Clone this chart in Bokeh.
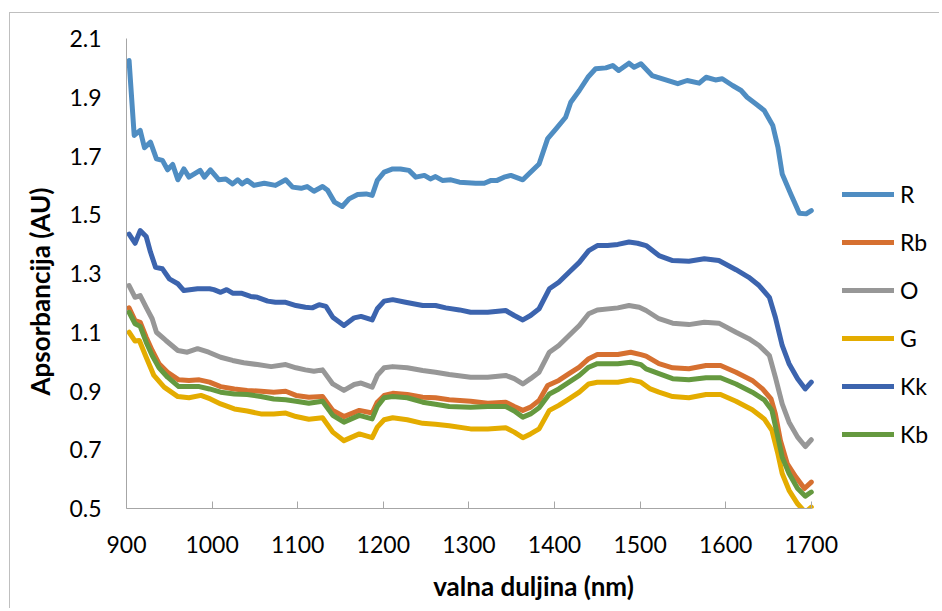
from bokeh.plotting import figure
from bokeh.models import Legend, LegendItem, FixedTicker, Title, Range1d
from bokeh.embed import file_html
from bokeh.resources import INLINE

# ---- data ----
R_nm = [903, 909, 916, 921, 928, 935, 942, 948, 954, 960, 967, 973, 986, 991, 998, 1008, 1016, 1024,
        1030, 1035, 1041, 1049, 1061, 1074, 1086, 1094, 1104, 1111, 1119, 1129, 1135, 1143, 1152, 1160,
        1170, 1180, 1187, 1193, 1201, 1211, 1220, 1230, 1238, 1248, 1255, 1261, 1269, 1279, 1289, 1308,
        1318, 1326, 1333, 1341, 1349, 1363, 1372, 1382, 1392, 1402, 1413, 1419, 1429, 1439, 1448, 1460,
        1468, 1475, 1487, 1493, 1501, 1514, 1530, 1544, 1555, 1569, 1577, 1588, 1596, 1608, 1618, 1625,
        1635, 1645, 1655, 1661, 1666, 1676, 1686, 1694, 1700]
R_abs = [2.025, 1.770, 1.787, 1.728, 1.747, 1.690, 1.685, 1.653, 1.671, 1.619, 1.656, 1.628, 1.651, 1.628,
         1.653, 1.619, 1.622, 1.605, 1.619, 1.605, 1.617, 1.600, 1.607, 1.600, 1.619, 1.594, 1.590, 1.596,
         1.580, 1.596, 1.583, 1.543, 1.528, 1.554, 1.569, 1.571, 1.566, 1.617, 1.645, 1.656, 1.656, 1.651,
         1.628, 1.634, 1.622, 1.630, 1.617, 1.619, 1.611, 1.607, 1.607, 1.617, 1.617, 1.628, 1.634, 1.619,
         1.645, 1.673, 1.759, 1.793, 1.832, 1.883, 1.923, 1.968, 1.997, 2.000, 2.008, 1.991, 2.016, 2.002,
         2.014, 1.974, 1.959, 1.946, 1.957, 1.948, 1.968, 1.959, 1.963, 1.940, 1.923, 1.900, 1.878, 1.855,
         1.804, 1.730, 1.639, 1.571, 1.505, 1.503, 1.514]

Kk_nm = [903, 910, 916, 923, 928, 934, 942, 950, 960, 967, 983, 997, 1002, 1010, 1017, 1024, 1034, 1045,
         1053, 1065, 1074, 1086, 1098, 1109, 1117, 1125, 1133, 1141, 1154, 1166, 1174, 1187, 1193, 1201,
         1211, 1226, 1246, 1261, 1273, 1289, 1302, 1322, 1343, 1353, 1363, 1372, 1382, 1394, 1405, 1417,
         1429, 1440, 1450, 1462, 1474, 1487, 1497, 1507, 1522, 1538, 1557, 1575, 1592, 1612, 1627, 1639,
         1651, 1658, 1666, 1674, 1684, 1693, 1700]
Kk_abs = [1.434, 1.403, 1.446, 1.426, 1.373, 1.321, 1.316, 1.282, 1.265, 1.242, 1.248, 1.248, 1.245, 1.236,
          1.245, 1.233, 1.233, 1.222, 1.219, 1.206, 1.202, 1.202, 1.191, 1.185, 1.183, 1.194, 1.188, 1.151,
          1.123, 1.149, 1.154, 1.142, 1.180, 1.206, 1.211, 1.202, 1.191, 1.191, 1.183, 1.176, 1.168, 1.168,
          1.174, 1.157, 1.142, 1.157, 1.180, 1.248, 1.270, 1.304, 1.338, 1.378, 1.395, 1.395, 1.399, 1.407,
          1.403, 1.395, 1.361, 1.344, 1.342, 1.350, 1.344, 1.313, 1.287, 1.259, 1.219, 1.151, 1.055, 0.993,
          0.942, 0.907, 0.930]

O_nm = [903, 910, 916, 923, 930, 935, 946, 960, 971, 983, 996, 1010, 1024, 1037, 1053, 1069, 1086, 1098,
        1109, 1119, 1129, 1141, 1154, 1166, 1174, 1187, 1193, 1201, 1211, 1228, 1246, 1261, 1277, 1302,
        1322, 1343, 1353, 1363, 1372, 1382, 1394, 1405, 1417, 1429, 1440, 1450, 1474, 1487, 1499, 1507,
        1522, 1538, 1557, 1575, 1592, 1612, 1627, 1639, 1651, 1658, 1666, 1674, 1684, 1693, 1700]
O_abs = [1.259, 1.219, 1.225, 1.185, 1.146, 1.100, 1.072, 1.038, 1.032, 1.044, 1.032, 1.015, 1.004, 0.996,
         0.990, 0.983, 0.990, 0.979, 0.972, 0.967, 0.972, 0.924, 0.902, 0.922, 0.927, 0.913, 0.953, 0.979,
         0.983, 0.979, 0.970, 0.964, 0.956, 0.947, 0.947, 0.953, 0.942, 0.924, 0.942, 0.964, 1.032, 1.055,
         1.089, 1.123, 1.163, 1.176, 1.183, 1.191, 1.185, 1.174, 1.146, 1.131, 1.126, 1.134, 1.131, 1.100,
         1.078, 1.055, 1.021, 0.947, 0.856, 0.794, 0.743, 0.711, 0.734]

Rb_nm = [903, 910, 916, 923, 930, 938, 948, 961, 973, 985, 997, 1010, 1026, 1041, 1057, 1072, 1086, 1098,
         1113, 1129, 1141, 1154, 1172, 1187, 1193, 1201, 1211, 1228, 1246, 1261, 1277, 1302, 1322, 1343,
         1353, 1363, 1372, 1382, 1392, 1405, 1417, 1429, 1440, 1450, 1474, 1489, 1501, 1507, 1522, 1538,
         1557, 1577, 1594, 1612, 1631, 1643, 1653, 1658, 1664, 1672, 1682, 1692, 1700]
Rb_abs = [1.183, 1.140, 1.134, 1.083, 1.038, 0.993, 0.964, 0.938, 0.936, 0.938, 0.930, 0.915, 0.907, 0.902,
          0.899, 0.896, 0.899, 0.885, 0.879, 0.881, 0.834, 0.813, 0.834, 0.825, 0.862, 0.885, 0.892, 0.888,
          0.879, 0.877, 0.870, 0.865, 0.858, 0.862, 0.847, 0.834, 0.845, 0.868, 0.919, 0.936, 0.959, 0.981,
          1.010, 1.024, 1.024, 1.032, 1.024, 1.019, 0.993, 0.979, 0.976, 0.987, 0.987, 0.964, 0.936, 0.907,
          0.873, 0.822, 0.731, 0.652, 0.607, 0.568, 0.590]

Kb_nm = [903, 910, 916, 923, 930, 938, 948, 961, 973, 985, 997, 1010, 1026, 1041, 1057, 1072, 1086, 1098,
         1113, 1129, 1141, 1154, 1172, 1187, 1193, 1201, 1211, 1228, 1246, 1261, 1277, 1302, 1322, 1343,
         1353, 1363, 1372, 1382, 1394, 1405, 1417, 1429, 1440, 1450, 1474, 1489, 1501, 1507, 1522, 1538,
         1557, 1577, 1594, 1612, 1631, 1645, 1654, 1661, 1666, 1674, 1684, 1693, 1700]
Kb_abs = [1.168, 1.129, 1.120, 1.066, 1.021, 0.979, 0.947, 0.915, 0.915, 0.915, 0.907, 0.896, 0.890, 0.888,
          0.881, 0.873, 0.870, 0.865, 0.858, 0.865, 0.817, 0.794, 0.817, 0.805, 0.847, 0.877, 0.881, 0.877,
          0.862, 0.855, 0.847, 0.845, 0.847, 0.847, 0.832, 0.811, 0.822, 0.843, 0.890, 0.907, 0.930, 0.953,
          0.981, 0.993, 0.993, 0.998, 0.990, 0.975, 0.959, 0.942, 0.938, 0.945, 0.945, 0.924, 0.896, 0.870,
          0.834, 0.743, 0.675, 0.619, 0.568, 0.542, 0.556]

G_nm = [903, 910, 915, 923, 932, 944, 960, 973, 987, 998, 1010, 1026, 1041, 1057, 1072, 1086, 1098, 1113,
        1129, 1141, 1154, 1172, 1187, 1193, 1201, 1211, 1228, 1246, 1261, 1277, 1302, 1322, 1343, 1353,
        1363, 1372, 1382, 1394, 1405, 1417, 1429, 1440, 1450, 1474, 1489, 1501, 1512, 1522, 1538, 1557,
        1577, 1594, 1612, 1631, 1645, 1654, 1661, 1666, 1674, 1684, 1693, 1700]
G_abs = [1.100, 1.070, 1.072, 1.015, 0.953, 0.913, 0.881, 0.877, 0.885, 0.873, 0.856, 0.839, 0.832, 0.822,
         0.822, 0.825, 0.813, 0.804, 0.809, 0.760, 0.731, 0.754, 0.741, 0.777, 0.802, 0.809, 0.802, 0.790,
         0.787, 0.782, 0.771, 0.771, 0.775, 0.760, 0.741, 0.754, 0.771, 0.834, 0.851, 0.873, 0.896, 0.924,
         0.930, 0.930, 0.938, 0.930, 0.907, 0.896, 0.881, 0.877, 0.888, 0.888, 0.865, 0.836, 0.805, 0.766,
         0.686, 0.619, 0.562, 0.516, 0.487, 0.505]

series_names = ["R", "Rb", "O", "G", "Kk", "Kb"]
series_colors = ["#4F8DC2", "#D67030", "#979797", "#E4AC00", "#3C64AE", "#65993F"]
x_ticks = [900, 1000, 1100, 1200, 1300, 1400, 1500, 1600, 1700]
y_ticks = [0.5, 0.7, 0.9, 1.1, 1.3, 1.5, 1.7, 1.9, 2.1]

x_title = "valna duljina (nm)"
y_title = "Apsorbancija (AU)"

data = {
    "R": (R_nm, R_abs), "Rb": (Rb_nm, Rb_abs), "O": (O_nm, O_abs),
    "G": (G_nm, G_abs), "Kk": (Kk_nm, Kk_abs), "Kb": (Kb_nm, Kb_abs),
}

FONT = "Lato"
AXIS_GRAY = "#A6A6A6"
TICK_SIZE = "23px"
TITLE_SIZE = "26px"

# geometry: frame from page x=126 to the right edge (legend lives inside it);
# the x axis itself is bounded to 900..1700 (900 -> x=126, 1700 -> x=810.5)
W, H = 930, 596
LEFT, TOP, PLOT_H = 116, 25, 470
FRAME_W = W - LEFT
PX_PER_NM = 684.8 / 800.0
x_end = 900 + FRAME_W / PX_PER_NM

p = figure(width=W, height=H, output_backend="svg", toolbar_location=None,
           x_range=Range1d(900, x_end), y_range=Range1d(0.5, 2.1),
           min_border_left=LEFT, min_border_right=0, min_border_top=TOP,
           min_border_bottom=H - TOP - PLOT_H)
p.styles = {"margin-left": "9px", "margin-top": "12px",
            "border-left": "1px solid #BFBFBF", "border-top": "1px solid #BFBFBF"}
p.outline_line_color = None
p.xgrid.grid_line_color = None
p.ygrid.grid_line_color = None
p.background_fill_color = "white"
p.border_fill_color = "white"

p.xaxis.ticker = FixedTicker(ticks=x_ticks)
p.xaxis.bounds = (900, 1700)
p.yaxis.ticker = FixedTicker(ticks=y_ticks)
p.yaxis.major_label_overrides = {t: f"{t:.1f}" for t in y_ticks}
for ax in (p.xaxis[0], p.yaxis[0]):
    ax.axis_line_color = AXIS_GRAY
    ax.axis_line_width = 1
    ax.major_tick_line_color = AXIS_GRAY
    ax.minor_tick_line_color = None
    ax.major_label_text_font = FONT
    ax.major_label_text_font_size = TICK_SIZE
    ax.major_label_text_color = "#000000"
    ax.axis_label_text_font = FONT
    ax.axis_label_text_font_size = TITLE_SIZE
    ax.axis_label_text_font_style = "bold"
    ax.axis_label_text_color = "#000000"

p.xaxis.major_tick_in = 7
p.xaxis.major_tick_out = 0
p.xaxis.major_label_standoff = 27
p.xaxis.axis_label = x_title
p.xaxis.axis_label_standoff = 14

p.yaxis.major_tick_in = 0
p.yaxis.major_tick_out = 0
p.yaxis.major_label_standoff = 25

# y-axis title (sits lower than the plot middle in the reference)
ytitle = Title(text=y_title, align="left", offset=113, standoff=22,
               text_font=FONT, text_font_size=TITLE_SIZE, text_font_style="bold",
               text_color="#000000")
p.add_layout(ytitle, "left")

items = []
for name, color in zip(series_names, series_colors):
    xs, ys = data[name]
    r = p.line(xs, ys, line_color=color, line_width=5, line_join="round", line_cap="round")
    items.append(LegendItem(label=name, renderers=[r]))

legend = Legend(items=items, location=(716, 60), orientation="vertical",
                glyph_width=52, glyph_height=28, label_height=28, spacing=20,
                label_standoff=6, padding=0, margin=0,
                label_text_font=FONT, label_text_font_size=TICK_SIZE, label_text_color="#000000",
                border_line_color=None, background_fill_alpha=0)
p.add_layout(legend, "center")

open("out.html", "w").write(file_html(p, INLINE))
